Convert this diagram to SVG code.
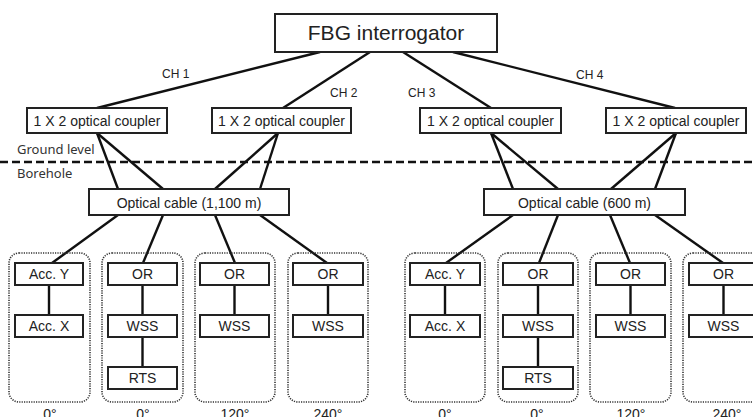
<svg xmlns="http://www.w3.org/2000/svg" width="753" height="417" viewBox="0 0 753 417">
<style>
.box{fill:#fff;stroke:#222;stroke-width:2}
.grp{fill:none;stroke:#333;stroke-width:1.6;stroke-dasharray:1.2,1.2}
.ln{stroke:#111;stroke-width:2.4;fill:none}
.t{font-family:"Liberation Sans",Arial,sans-serif;font-size:14px;fill:#222;text-anchor:middle}
.ch{font-family:"Liberation Sans",Arial,sans-serif;font-size:12px;fill:#222}
.k{font-family:"Noto Sans",sans-serif;font-size:13px;fill:#333}
</style>
<rect width="753" height="417" fill="#fff"/>

<g id="connectors">
<line class="ln" x1="320" y1="52" x2="97" y2="108"/>
<line class="ln" x1="370" y1="52" x2="283" y2="108"/>
<line class="ln" x1="403" y1="52" x2="491" y2="108"/>
<line class="ln" x1="453" y1="52" x2="675" y2="108"/>
<line class="ln" x1="97" y1="133" x2="118" y2="189"/>
<line class="ln" x1="97" y1="133" x2="163" y2="189"/>
<line class="ln" x1="278" y1="133" x2="215" y2="189"/>
<line class="ln" x1="278" y1="133" x2="260" y2="189"/>
<line class="ln" x1="491" y1="133" x2="513" y2="189"/>
<line class="ln" x1="491" y1="133" x2="558" y2="189"/>
<line class="ln" x1="676" y1="133" x2="611" y2="189"/>
<line class="ln" x1="676" y1="133" x2="655" y2="189"/>
<line class="ln" x1="118" y1="215" x2="52" y2="263"/>
<line class="ln" x1="163" y1="215" x2="143" y2="263"/>
<line class="ln" x1="215" y1="215" x2="235" y2="263"/>
<line class="ln" x1="260" y1="215" x2="327" y2="263"/>
<line class="ln" x1="513" y1="215" x2="446" y2="263"/>
<line class="ln" x1="558" y1="215" x2="539" y2="263"/>
<line class="ln" x1="610" y1="215" x2="630" y2="263"/>
<line class="ln" x1="655" y1="215" x2="723" y2="263"/>
<line class="ln" x1="49" y1="285" x2="49" y2="315"/>
<line class="ln" x1="142.5" y1="285" x2="142.5" y2="315"/>
<line class="ln" x1="142.5" y1="337" x2="142.5" y2="367"/>
<line class="ln" x1="234.5" y1="285" x2="234.5" y2="315"/>
<line class="ln" x1="328" y1="285" x2="328" y2="315"/>
<line class="ln" x1="445" y1="285" x2="445" y2="315"/>
<line class="ln" x1="538" y1="285" x2="538" y2="315"/>
<line class="ln" x1="538" y1="337" x2="538" y2="367"/>
<line class="ln" x1="630.5" y1="285" x2="630.5" y2="315"/>
<line class="ln" x1="723.5" y1="285" x2="723.5" y2="315"/>
</g>

<g id="labels">
<text class="ch" x="162" y="78">CH 1</text>
<text class="ch" x="330" y="97">CH 2</text>
<text class="ch" x="408" y="97">CH 3</text>
<text class="ch" x="576" y="79">CH 4</text>
<text class="k" x="17" y="154">Ground level</text>
<text class="k" x="17" y="178">Borehole</text>
<line x1="0" y1="162" x2="753" y2="162" stroke="#111" stroke-width="2.4" stroke-dasharray="8,4"/>
</g>

<g id="fbg">
<rect class="box" x="275" y="14" width="222" height="38"/>
<text class="t" x="386" y="40" style="font-size:21px">FBG interrogator</text>
</g>

<g id="coupler1"><rect class="box" x="27" y="108" width="140" height="25"/><text class="t" x="97" y="126">1 X 2 optical coupler</text></g>
<g id="coupler2"><rect class="box" x="212" y="108" width="139" height="25"/><text class="t" x="281.5" y="126">1 X 2 optical coupler</text></g>
<g id="coupler3"><rect class="box" x="420" y="108" width="141" height="25"/><text class="t" x="490.5" y="126">1 X 2 optical coupler</text></g>
<g id="coupler4"><rect class="box" x="606" y="108" width="140" height="25"/><text class="t" x="676" y="126">1 X 2 optical coupler</text></g>

<g id="cable1"><rect class="box" x="89" y="189" width="200" height="26"/><text class="t" x="189" y="208">Optical cable (1,100 m)</text></g>
<g id="cable2"><rect class="box" x="484" y="189" width="201" height="26"/><text class="t" x="584.5" y="208">Optical cable (600 m)</text></g>

<g id="group1">
<rect class="grp" x="9" y="253" width="81" height="149" rx="10"/>
<rect class="box" x="15" y="263" width="68" height="22"/><text class="t" x="49" y="279">Acc. Y</text>
<rect class="box" x="15" y="315" width="68" height="22"/><text class="t" x="49" y="331">Acc. X</text>
<text class="t" x="50" y="419">0°</text>
</g>
<g id="group2">
<rect class="grp" x="102" y="253" width="81" height="149" rx="10"/>
<rect class="box" x="108" y="263" width="69" height="22"/><text class="t" x="142.5" y="279">OR</text>
<rect class="box" x="108" y="315" width="69" height="22"/><text class="t" x="142.5" y="331">WSS</text>
<rect class="box" x="108" y="367" width="69" height="22"/><text class="t" x="142.5" y="383">RTS</text>
<text class="t" x="143" y="419">0°</text>
</g>
<g id="group3">
<rect class="grp" x="195" y="253" width="80" height="149" rx="10"/>
<rect class="box" x="200" y="263" width="69" height="22"/><text class="t" x="234.5" y="279">OR</text>
<rect class="box" x="200" y="315" width="69" height="22"/><text class="t" x="234.5" y="331">WSS</text>
<text class="t" x="235" y="419">120°</text>
</g>
<g id="group4">
<rect class="grp" x="288" y="253" width="80" height="149" rx="10"/>
<rect class="box" x="293" y="263" width="70" height="22"/><text class="t" x="328" y="279">OR</text>
<rect class="box" x="293" y="315" width="70" height="22"/><text class="t" x="328" y="331">WSS</text>
<text class="t" x="328" y="419">240°</text>
</g>
<g id="group5">
<rect class="grp" x="405" y="253" width="80" height="149" rx="10"/>
<rect class="box" x="410" y="263" width="70" height="22"/><text class="t" x="445" y="279">Acc. Y</text>
<rect class="box" x="410" y="315" width="70" height="22"/><text class="t" x="445" y="331">Acc. X</text>
<text class="t" x="445" y="419">0°</text>
</g>
<g id="group6">
<rect class="grp" x="498" y="253" width="80" height="149" rx="10"/>
<rect class="box" x="503" y="263" width="70" height="22"/><text class="t" x="538" y="279">OR</text>
<rect class="box" x="503" y="315" width="70" height="22"/><text class="t" x="538" y="331">WSS</text>
<rect class="box" x="503" y="367" width="70" height="22"/><text class="t" x="538" y="383">RTS</text>
<text class="t" x="537" y="419">0°</text>
</g>
<g id="group7">
<rect class="grp" x="590" y="253" width="81" height="149" rx="10"/>
<rect class="box" x="596" y="263" width="69" height="22"/><text class="t" x="630.5" y="279">OR</text>
<rect class="box" x="596" y="315" width="69" height="22"/><text class="t" x="630.5" y="331">WSS</text>
<text class="t" x="631" y="419">120°</text>
</g>
<g id="group8">
<rect class="grp" x="683" y="253" width="81" height="149" rx="10"/>
<rect class="box" x="689" y="263" width="69" height="22"/><text class="t" x="723.5" y="279">OR</text>
<rect class="box" x="689" y="315" width="69" height="22"/><text class="t" x="723.5" y="331">WSS</text>
<text class="t" x="727" y="419">240°</text>
</g>
</svg>
